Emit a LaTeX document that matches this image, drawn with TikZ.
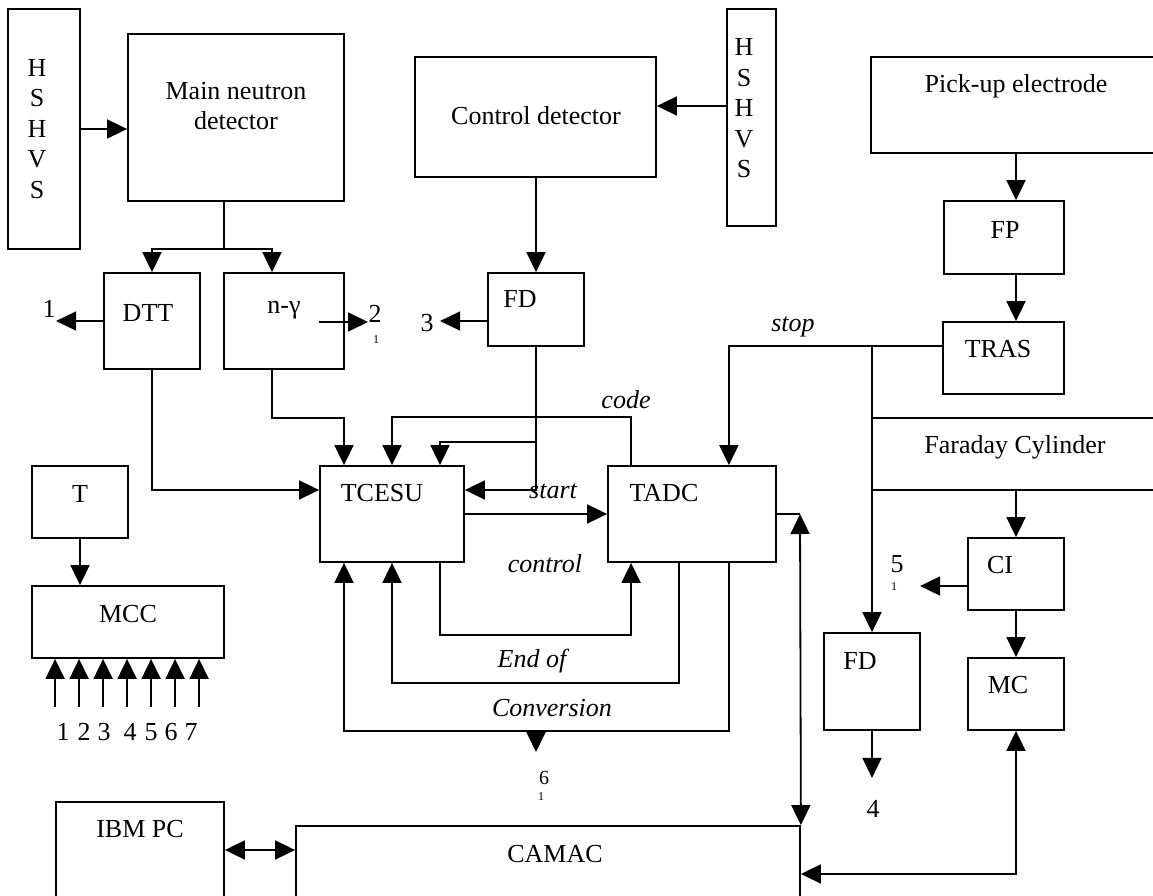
\documentclass[tikz,border=0pt]{standalone}
\usepackage{fontspec}
\setmainfont{Liberation Serif}
\usetikzlibrary{arrows.meta}
\usetikzlibrary{calc}
\usetikzlibrary{positioning}

\begin{document}
\begin{tikzpicture}[
    x=1pt, y=-1pt,
    line width=1.8pt,
    >={Triangle[length=20pt,width=19pt]},
    font=\fontsize{26}{30.5}\selectfont,
    blk/.style={
      rectangle,
      draw,
      inner sep=0pt
    },
    txt/.style={
      inner sep=0pt,
      anchor=base
    },
    lbl/.style={
      txt,
      font=\fontsize{26}{30}\selectfont\itshape
    },
    subno/.style={
      txt,
      font=\fontsize{12}{14}\selectfont
    }
    ]
    \useasboundingbox (0,0) rectangle (1153,896);
    \clip (0,0) rectangle (1153,896);

    \node[blk, minimum width=72, minimum height=240] (hv_l) at (44,129) {};
    \node[txt, anchor=center, align=center] (hv_l_t) at (37,129) {H\\S\\H\\V\\S};
    \node[blk, minimum width=216, minimum height=167] (main) at (236,117.5) {};
    \node[txt, anchor=center, align=center] (main_t) at (236,106) {Main neutron\\detector};
    \node[blk, minimum width=96, minimum height=96] (dtt) at (152,321) {};
    \node[txt] (dtt_t) at (148,321) {DTT};
    \node[blk, minimum width=120, minimum height=96] (ng) at (284,321) {};
    \node[txt] (ng_t) at (284,313) {n-γ};
    \node[blk, minimum width=96, minimum height=73] (fd_t) at (536,309.5) {};
    \node[txt] (fd_t_t) at (520,307) {FD};
    \node[blk, minimum width=241, minimum height=120] (ctrl) at (535.5,117) {};
    \node[txt] (ctrl_t) at (536,125) {Control detector};
    \node[blk, minimum width=49, minimum height=217] (hv_r) at (751.5,117.5) {};
    \node[txt, anchor=center, align=center] (hv_r_t) at (744,108.5) {H\\S\\H\\V\\S};
    \node[blk, minimum width=294, minimum height=96] (pick) at (1018,105) {};
    \node[txt] (pick_t) at (1016,93) {Pick-up electrode};
    \node[blk, minimum width=120, minimum height=73] (fp) at (1004,237.5) {};
    \node[txt] (fp_t) at (1005,238) {FP};
    \node[blk, minimum width=121, minimum height=72] (tras) at (1003.5,358) {};
    \node[txt] (tras_t) at (998,357) {TRAS};
    \node[blk, minimum width=293, minimum height=72] (far) at (1018.5,454) {};
    \node[txt] (far_t) at (1015,453) {Faraday Cylinder};
    \node[blk, minimum width=96, minimum height=72] (ci) at (1016,574) {};
    \node[txt] (ci_t) at (1000,573) {CI};
    \node[blk, minimum width=96, minimum height=72] (mc) at (1016,694) {};
    \node[txt] (mc_t) at (1008,693) {MC};
    \node[blk, minimum width=96, minimum height=97] (fd_b) at (872,681.5) {};
    \node[txt] (fd_b_t) at (860,669) {FD};
    \node[blk, minimum width=144, minimum height=96] (tcesu) at (392,514) {};
    \node[txt] (tcesu_t) at (382,501) {TCESU};
    \node[blk, minimum width=168, minimum height=96] (tadc) at (692,514) {};
    \node[txt] (tadc_t) at (664,501) {TADC};
    \node[blk, minimum width=96, minimum height=72] (t) at (80,502) {};
    \node[txt] (t_t) at (80,502) {T};
    \node[blk, minimum width=192, minimum height=72] (mcc) at (128,622) {};
    \node[txt] (mcc_t) at (128,622) {MCC};
    \node[blk, minimum width=168, minimum height=96] (ibm) at (140,850) {};
    \node[txt] (ibm_t) at (140,837) {IBM PC};
    \node[blk, minimum width=504, minimum height=96] (camac) at (548,874) {};
    \node[txt] (camac_t) at (555,862) {CAMAC};

    \node[lbl] (code) at (626,408) {code};
    \node[lbl] (start) at (553,498) {start};
    \node[lbl] (stop) at (793,331) {stop};
    \node[lbl] (control) at (545,572) {control};
    \node[lbl] (endof) at (532,667) {End of};
    \node[lbl] (conv) at (552,716) {Conversion};

    \node[txt] (o1) at (49,317) {1};
    \node[txt] (o2) at (375,322) {2};
    \node[subno] (o2s) at (376,343) {1};
    \node[txt] (o3) at (427,331) {3};
    \node[txt] (o4) at (873,817) {4};
    \node[txt] (o5) at (897,572) {5};
    \node[subno] (o5s) at (894,590) {1};
    \node[txt, font=\fontsize{20}{24}\selectfont] (o6) at (544,784) {6};
    \node[subno] (o6s) at (541,800) {1};
    \foreach \n/\x in {1/63,2/84,3/104,4/130,5/151,6/171,7/191}{
      \node[txt] (in\n) at (\x,740) {\n};
    }

    \coordinate (split) at (224,249);
    \coordinate (st) at (536,490);
    \coordinate (br) at (536,442);
    \coordinate (sj) at (872,346);
    \coordinate (cj) at (800,514);
    \coordinate (c6) at (536,730);

    \draw[->] (hv_l) -- (main.west |- hv_l);
    \draw (main.south -| split) -- (split);
    \draw[->] (split) -| (dtt.north);
    \draw[->] (split) -| ($(ng.north)+(-12,0)$);
    \draw[->] ($(hv_r.west)+(0,-11.5)$) -- ($(ctrl.east)+(0,-11)$);
    \draw[->] (ctrl.south -| fd_t) -- (fd_t.north);
    \draw[->] (dtt.west) -- ++(-47,0);
    \draw[->] ($(ng.center)+(35,1)$) -- ++(49,0);
    \draw[->] (fd_t.west |- dtt.west) -- ++(-47,0);

    \draw[->] (fd_t.south) -- (st) -- (tcesu.east |- st);
    \draw[->] (br) -| ($(tcesu.north)+(48,0)$);
    \draw[->] ($(tadc.north west)+(24,0)$) -- ++(0,-48) -| (tcesu.north);
    \draw[->] ($(ng.south)+(-12,0)$) -- ++(0,48) -| ($(tcesu.north)+(-48,0)$);
    \draw[->] (dtt.south) |- (tcesu.west |- st);
    \draw[->] (tcesu) -- (tadc);

    \draw[->] (tras.west |- sj) -- (sj) -| ($(tadc.north east)+(-48,0)$);
    \draw[->] (sj) -- (fd_b.north);
    \draw[->] (pick.south -| ci) -- (fp.north -| ci);
    \draw[->] (fp.south -| ci) -- (tras.north -| ci);
    \draw[->] (far.south -| ci) -- (ci.north);
    \draw[->] (ci) -- (mc);
    \draw[->] ($(ci.west)+(0,12)$) -- ++(-47,0);
    \draw[->] (fd_b.south) -- ++(0,47);
    \draw[<->] (mc.south) |- (camac.east);
    \draw[<->] (ibm) -- (camac.west |- ibm);
    \draw (tadc.east) -- (cj);
    \draw[<->] (cj) -- (camac.north east);

    \draw[->] ($(tcesu.south)+(48,0)$) -- ++(0,72) -| ($(tadc.south west)+(24,0)$);
    \draw[->] ($(tadc.south west)+(72,0)$) -- ++(0,120) -| (tcesu.south);
    \draw[->] ($(tadc.south east)+(-48,0)$) -- ++(0,168) -| ($(tcesu.south)+(-48,0)$);
    \draw[->] (c6) -- ++(0,22);

    \draw[->] (t.south) -- (t.south |- mcc.north);
    \foreach \n in {1,...,7}{
      \draw[->] ($(mcc.south west)+(24*\n,48)$) -- ($(mcc.south west)+(24*\n,0)$);
    }
  \end{tikzpicture}
\end{document}
